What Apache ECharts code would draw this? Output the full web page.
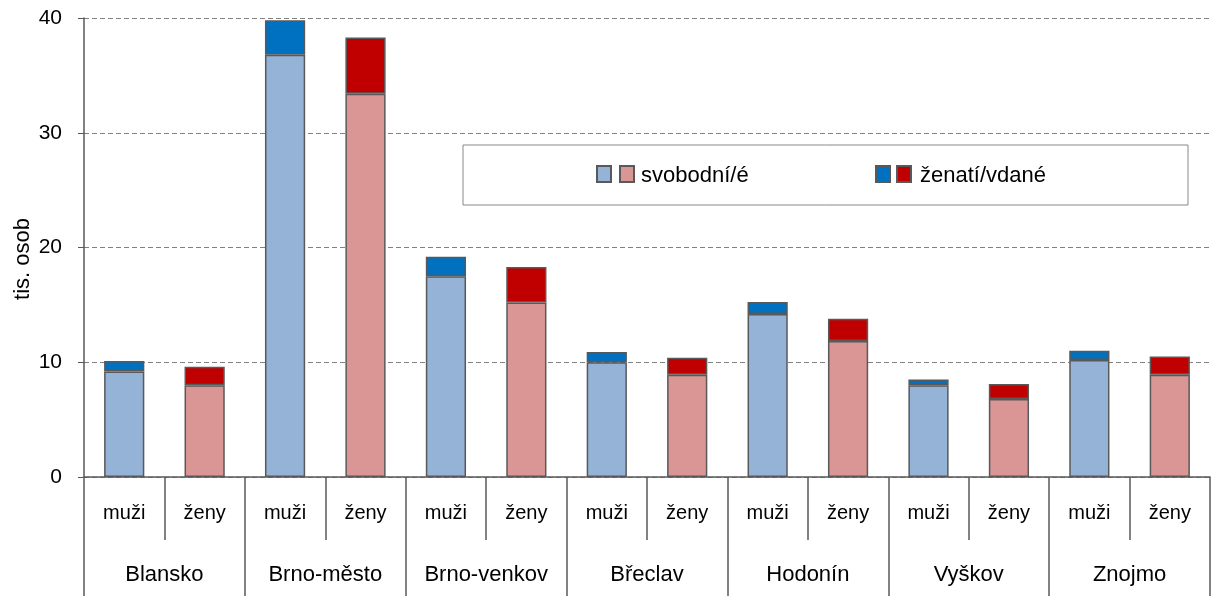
<!DOCTYPE html>
<html><head><meta charset="utf-8">
<script src="https://cdn.jsdelivr.net/npm/echarts@6/dist/echarts.min.js"></script>
<style>
html,body{margin:0;padding:0;background:#fff}
#c{width:1215px;height:596px}
</style>
</head><body><div id="c"></div>
<script>
const districts = ['Blansko','Brno-město','Brno-venkov','Břeclav','Hodonín','Vyškov','Znojmo'];
const genders = ['muži','ženy'];
const seriesNames = ['svobodní/é','ženatí/vdané'];
// order: Blansko muži, Blansko ženy, Brno-město muži, ...
const svobodni = [9.2, 8.0, 36.8, 33.4, 17.5, 15.2, 10.0, 8.9, 14.2, 11.85, 8.0, 6.8, 10.2, 8.9];
const zenati   = [0.9, 1.6, 3.0, 4.9, 1.7, 3.1, 0.9, 1.5, 1.05, 1.95, 0.5, 1.3, 0.8, 1.6];
const yTicks = [0, 10, 20, 30, 40];

const cats = [];
districts.forEach(d => genders.forEach(g => cats.push(g)));
const colLight = ['#95B3D7', '#D99694'];
const colDark = ['#0070C0', '#C00000'];
const font = 'Liberation Sans, Arial, sans-serif';

const chart = echarts.init(document.getElementById('c'), null, {renderer: 'canvas'});
chart.setOption({
  animation: false,
  grid: {left: 84, right: 5, top: 18, bottom: 119, containLabel: false, outerBoundsMode: 'none'},
  xAxis: [{
    type: 'category', data: cats, position: 'bottom',
    axisLine: {show: true, lineStyle: {color: '#595959', width: 1.5}},
    axisTick: {show: true, interval: 0, length: 63, lineStyle: {color: '#595959', width: 1.5}},
    axisLabel: {interval: 0, margin: 26, color: '#000', fontSize: 20, fontFamily: font}
  }, {
    type: 'category', data: districts, position: 'bottom',
    axisLine: {show: false},
    axisTick: {show: true, interval: 0, length: 119, lineStyle: {color: '#595959', width: 1.5}},
    axisLabel: {interval: 0, margin: 87, color: '#000', fontSize: 22, fontFamily: font}
  }],
  yAxis: {
    type: 'value', min: 0, max: 40, interval: 10,
    name: 'tis. osob', nameLocation: 'middle', nameGap: 50, nameRotate: 90, nameMoveOverlap: false,
    nameTextStyle: {color: '#000', fontSize: 22, fontFamily: font, padding: [0, 23, 0, 0]},
    axisLine: {show: true, lineStyle: {color: '#595959', width: 1.5}},
    axisTick: {show: true, length: 6, lineStyle: {color: '#595959'}},
    axisLabel: {color: '#000', fontSize: 21, fontFamily: font, margin: 22,
      formatter: v => yTicks.includes(v) ? String(v) : ''},
    splitLine: {show: true, lineStyle: {color: '#808080', type: [5, 3], width: 1}}
  },
  series: [{
    name: seriesNames[0], type: 'bar', stack: 's', barWidth: '50%', xAxisIndex: 0,
    data: svobodni,
    itemStyle: {color: p => colLight[p.dataIndex % 2], borderColor: '#595959', borderWidth: 1.5}
  }, {
    name: seriesNames[1], type: 'bar', stack: 's', barWidth: '50%', xAxisIndex: 0,
    data: zenati,
    itemStyle: {color: p => colDark[p.dataIndex % 2], borderColor: '#595959', borderWidth: 1.5}
  }],
  graphic: [
    {type: 'rect', shape: {x: 463, y: 145, width: 725, height: 60}, style: {fill: '#fff', stroke: '#888', lineWidth: 1}, z: 10},
    {type: 'rect', shape: {x: 597, y: 166, width: 14, height: 16}, style: {fill: colLight[0], stroke: '#595959', lineWidth: 2}, z: 11},
    {type: 'rect', shape: {x: 620, y: 166, width: 14, height: 16}, style: {fill: colLight[1], stroke: '#595959', lineWidth: 2}, z: 11},
    {type: 'text', x: 641, y: 176, style: {text: seriesNames[0], fill: '#000', font: '22px ' + font, verticalAlign: 'middle'}, z: 11},
    {type: 'rect', shape: {x: 876, y: 166, width: 14, height: 16}, style: {fill: colDark[0], stroke: '#595959', lineWidth: 2}, z: 11},
    {type: 'rect', shape: {x: 897, y: 166, width: 14, height: 16}, style: {fill: colDark[1], stroke: '#595959', lineWidth: 2}, z: 11},
    {type: 'text', x: 920, y: 176, style: {text: seriesNames[1], fill: '#000', font: '22px ' + font, verticalAlign: 'middle'}, z: 11}
  ]
});
</script></body></html>
